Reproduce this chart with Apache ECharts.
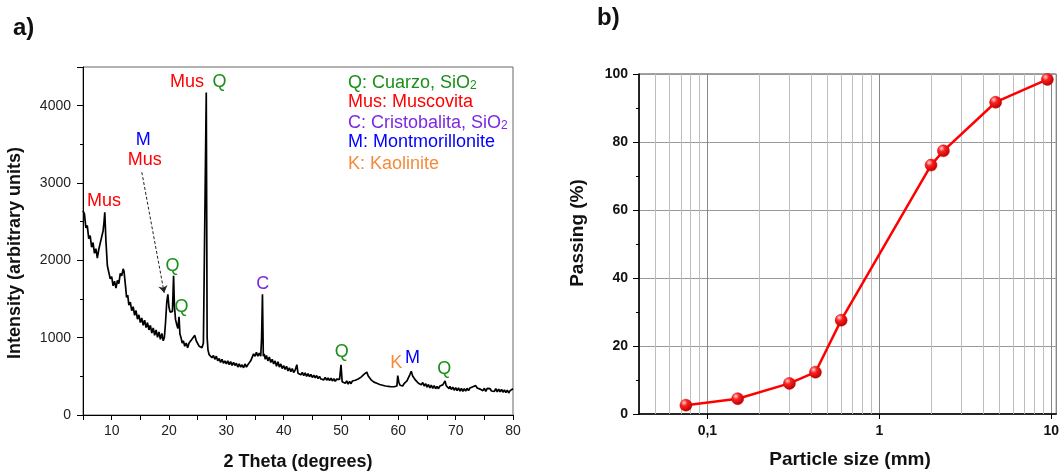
<!DOCTYPE html>
<html>
<head>
<meta charset="utf-8">
<script src="https://cdn.jsdelivr.net/npm/echarts@6/dist/echarts.min.js"></script>
<style>
  html, body { margin: 0; padding: 0; background: #fff; }
  #main { width: 1062px; height: 471px; }
</style>
</head>
<body>
<div id="main"></div>
<script>
// a) XRD pattern, pairs of [2 theta, intensity]
var xrdPattern = [
  [5,2640],[5.25,2600],[5.5,2420],[5.75,2450],[6,2280],[6.25,2320],[6.5,2170],[6.75,2230],
  [7,2090],[7.25,2150],[7.5,2030],[7.75,2140],[8,2120],[8.25,2300],[8.5,2380],[8.65,2480],
  [8.8,2620],[9,2250],[9.25,1930],[9.5,1910],[9.75,1760],[10,1790],[10.25,1670],[10.5,1730],
  [10.75,1640],[11,1740],[11.25,1700],[11.5,1830],[11.75,1800],[12,1890],[12.15,1860],[12.4,1680],
  [12.6,1520],[12.8,1550],[13,1420],[13.25,1460],[13.5,1350],[13.75,1400],[14,1290],[14.25,1350],
  [14.5,1240],[14.75,1295],[15,1195],[15.25,1255],[15.5,1160],[15.75,1225],[16,1130],[16.25,1195],
  [16.5,1100],[16.75,1160],[17,1060],[17.25,1125],[17.5,1030],[17.75,1100],[18,1005],[18.25,1075],
  [18.5,980],[18.75,1055],[19,960],[19.2,1010],[19.4,1200],[19.6,1450],[19.8,1560],[20,1390],
  [20.2,1330],[20.45,1310],[20.6,1340],[20.8,1800],[20.95,1400],[21.15,1230],[21.35,1170],[21.55,1120],
  [21.75,1270],[21.9,1050],[22.1,1000],[22.3,930],[22.5,960],[22.75,890],[23,930],[23.25,870],
  [23.5,930],[23.75,920],[24,980],[24.25,980],[24.5,1030],[24.75,960],[25,950],[25.25,890],
  [25.5,900],[25.75,870],[26,930],[26.25,950],[26.5,4170],[26.65,1000],[26.8,840],[27,780],
  [27.25,790],[27.5,740],[27.75,770],[28,720],[28.25,760],[28.5,700],[28.75,730],[29,680],
  [29.25,720],[29.5,670],[29.75,700],[30,660],[30.25,700],[30.5,650],[30.75,690],[31,640],
  [31.25,680],[31.5,640],[31.75,670],[32,620],[32.25,660],[32.5,620],[32.75,650],[33,610],
  [33.25,660],[33.5,620],[33.75,650],[34,630],[34.25,700],[34.5,720],[34.75,790],[35,760],
  [35.25,810],[35.5,760],[35.75,800],[36,760],[36.15,1000],[36.3,1560],[36.45,760],[36.6,790],
  [36.8,720],[37,770],[37.25,700],[37.5,750],[37.75,680],[38,720],[38.25,660],[38.5,700],
  [38.75,630],[39,690],[39.25,620],[39.5,660],[39.75,600],[40,640],[40.25,590],[40.5,630],
  [40.75,570],[41,610],[41.25,560],[41.5,600],[41.75,550],[42,580],[42.3,650],[42.5,540],
  [42.75,560],[43,520],[43.25,550],[43.5,510],[43.75,545],[44,500],[44.25,535],[44.5,495],
  [44.75,525],[45,485],[45.25,515],[45.5,480],[45.75,510],[46,470],[46.25,500],[46.5,465],
  [46.75,490],[47,455],[47.25,485],[47.5,450],[47.75,480],[48,445],[48.25,475],[48.5,440],
  [48.75,470],[49,435],[49.25,465],[49.5,440],[49.75,460],[50,650],[50.2,430],[50.5,430],
  [50.75,410],[51,440],[51.25,400],[51.5,435],[51.75,405],[52,440],[52.25,415],[52.5,450],
  [52.75,430],[53,465],[53.25,450],[53.5,490],[53.75,490],[54,525],[54.25,520],[54.5,555],
  [54.75,505],[55,500],[55.25,455],[55.5,460],[55.75,425],[56,440],[56.25,410],[56.5,425],
  [56.75,395],[57,415],[57.25,385],[57.5,405],[57.75,375],[58,400],[58.25,370],[58.5,395],
  [58.75,365],[59,390],[59.25,365],[59.5,390],[59.75,375],[59.9,510],[60.1,420],[60.3,385],
  [60.5,400],[60.75,375],[61,405],[61.25,395],[61.5,440],[61.75,460],[62,520],[62.25,565],
  [62.5,505],[62.75,495],[63,450],[63.25,460],[63.5,410],[63.75,435],[64,390],[64.25,420],
  [64.5,375],[64.75,405],[65,360],[65.25,395],[65.5,350],[65.75,385],[66,345],[66.25,380],
  [66.5,340],[66.75,370],[67,340],[67.25,375],[67.5,350],[67.75,390],[68,395],[68.15,440],
  [68.35,380],[68.6,375],[68.85,340],[69,370],[69.25,330],[69.5,360],[69.75,320],[70,355],
  [70.25,315],[70.5,350],[70.75,310],[71,345],[71.25,305],[71.5,340],[71.75,310],[72,345],
  [72.25,315],[72.5,350],[72.75,325],[73,365],[73.25,340],[73.5,380],[73.75,350],[74,360],
  [74.25,335],[74.5,345],[74.75,315],[75,345],[75.25,305],[75.5,345],[75.75,320],[76,340],
  [76.25,310],[76.5,335],[76.75,305],[77,340],[77.25,300],[77.5,335],[77.75,300],[78,330],
  [78.25,295],[78.5,325],[78.75,290],[79,320],[79.25,285],[79.5,315],[79.75,300],[80,340]
];

var GREEN = '#1a8f1a', RED = '#ff0000', PURPLE = '#7b2ae0', BLUE = '#0000ff', ORANGE = '#f58a3c';

// peak labels: [2 theta, intensity, text, colour]
var peakLabels = [
  [8.67, 2770, 'Mus', RED],
  [15.5, 3560, 'M', BLUE],
  [15.75, 3300, 'Mus', RED],
  [23.13, 4300, 'Mus', RED],
  [28.8, 4300, 'Q', GREEN],
  [20.6, 1926, 'Q', GREEN],
  [22.2, 1398, 'Q', GREEN],
  [36.35, 1700, 'C', PURPLE],
  [50.15, 814, 'Q', GREEN],
  [59.65, 670, 'K', ORANGE],
  [62.45, 735, 'M', BLUE],
  [68.0, 597, 'Q', GREEN]
];
var arrowFrom = [15.26, 3139];
var arrowTo = [19.16, 1580];

// b) grading curve
var sieveSize = [0.075, 0.15, 0.3, 0.425, 0.6, 2, 2.36, 4.75, 9.5];
var passing = [2.6, 4.5, 9.0, 12.3, 27.6, 73.2, 77.4, 91.7, 98.4];
var minorGrid = [0.05, 0.06, 0.07, 0.08, 0.09, 0.2, 0.3, 0.4, 0.5, 0.6, 0.7, 0.8, 0.9,
                 2, 3, 4, 5, 6, 7, 8, 9];

var FONT = '"Liberation Sans", Arial, sans-serif';

var chart = echarts.init(document.getElementById('main'));

var sphere = new echarts.graphic.RadialGradient(0.35, 0.3, 0.75, [
  {offset: 0, color: '#ffd6d6'},
  {offset: 0.35, color: '#ff2020'},
  {offset: 1, color: '#b00000'}
]);

chart.setOption({
  backgroundColor: '#fff',
  animation: false,
  textStyle: {fontFamily: FONT},
  grid: [
    {left: 83, top: 67, width: 430, height: 348, show: true, borderColor: '#666', borderWidth: 1},
    {left: 639, top: 74, width: 419, height: 340, show: true, borderColor: '#444', borderWidth: 1}
  ],
  xAxis: [
    {
      gridIndex: 0, type: 'value', min: 5, max: 80, interval: 5,
      axisLine: {onZero: false, lineStyle: {color: '#000', width: 1}},
      axisTick: {show: true, length: 5, lineStyle: {color: '#000'}},
      axisLabel: {
        color: '#222', fontSize: 14, margin: 9,
        formatter: function (v) { return v % 10 === 0 ? String(v) : ''; }
      },
      splitLine: {show: false}
    },
    {
      gridIndex: 1, type: 'log', logBase: 10, min: 0.04, max: 10.7,
      axisLine: {onZero: false, lineStyle: {color: '#000', width: 1.5}},
      axisTick: {show: true, length: 5, lineStyle: {color: '#000'}},
      axisLabel: {
        color: '#111', fontSize: 14, fontWeight: 'bold', margin: 10,
        showMinLabel: false, showMaxLabel: false,
        formatter: function (v) { return String(Number(v.toPrecision(3))).replace('.', ','); }
      },
      splitLine: {show: true, lineStyle: {color: '#888', width: 1}}
    }
  ],
  yAxis: [
    {
      gridIndex: 0, type: 'value', min: 0, max: 4500, interval: 1000,
      axisLine: {show: true, lineStyle: {color: '#000', width: 1}},
      axisTick: {show: true, length: 6, lineStyle: {color: '#000'}},
      minorTick: {show: true, splitNumber: 2, length: 3, lineStyle: {color: '#000'}},
      axisLabel: {
        color: '#222', fontSize: 14, margin: 12, showMaxLabel: false,
        formatter: function (v) { return String(v); }
      },
      splitLine: {show: false}
    },
    {
      gridIndex: 1, type: 'value', min: 0, max: 100, interval: 20,
      axisLine: {show: true, lineStyle: {color: '#000', width: 1.5}},
      axisTick: {show: true, length: 6, lineStyle: {color: '#000'}},
      minorTick: {show: true, splitNumber: 2, length: 3, lineStyle: {color: '#000'}},
      axisLabel: {color: '#111', fontSize: 14, fontWeight: 'bold', margin: 11},
      splitLine: {show: true, lineStyle: {color: '#999', width: 1}}
    }
  ],
  series: [
    {
      type: 'line', xAxisIndex: 0, yAxisIndex: 0,
      data: xrdPattern, showSymbol: false, z: 3,
      lineStyle: {color: '#000', width: 1.7},
      markLine: {
        silent: true, symbol: ['none', 'arrow'], symbolSize: 7,
        label: {show: false},
        lineStyle: {color: '#222', width: 1, type: [3, 2]},
        data: [[{coord: arrowFrom}, {coord: arrowTo}]]
      }
    },
    {
      type: 'scatter', xAxisIndex: 0, yAxisIndex: 0, symbolSize: 0, z: 4,
      itemStyle: {opacity: 1},
      data: peakLabels.map(function (p) {
        return {
          value: [p[0], p[1]],
          label: {show: true, position: 'inside', formatter: p[2], color: p[3],
                  fontSize: 18, fontFamily: FONT, textBorderWidth: 0, opacity: 1}
        };
      })
    },
    {
      type: 'line', xAxisIndex: 1, yAxisIndex: 1, data: [], z: 1,
      markLine: {
        silent: true, symbol: 'none', label: {show: false},
        lineStyle: {color: '#bdbdbd', width: 1, type: 'solid'},
        data: minorGrid.map(function (v) { return {xAxis: v}; })
      }
    },
    {
      type: 'line', xAxisIndex: 1, yAxisIndex: 1, z: 5,
      data: sieveSize.map(function (s, i) { return [s, passing[i]]; }),
      symbol: 'circle', symbolSize: 12, showSymbol: true,
      lineStyle: {color: '#ff0000', width: 2.5},
      itemStyle: {color: sphere, borderColor: '#d00000', borderWidth: 0.5}
    }
  ],
  graphic: [
    {type: 'text', x: 13, y: 16, style: {text: 'a)', font: 'bold 24px ' + FONT, fill: '#111'}},
    {type: 'text', x: 597, y: 6, style: {text: 'b)', font: 'bold 24px ' + FONT, fill: '#111'}},
    {type: 'text', x: 15, y: 253, rotation: Math.PI / 2,
     style: {text: 'Intensity (arbitrary units)', font: 'bold 18px ' + FONT, fill: '#111',
             textAlign: 'center', textVerticalAlign: 'middle'}},
    {type: 'text', x: 298, y: 462,
     style: {text: '2 Theta (degrees)', font: 'bold 18px ' + FONT, fill: '#111',
             textAlign: 'center', textVerticalAlign: 'middle'}},
    {type: 'text', x: 578, y: 233, rotation: Math.PI / 2,
     style: {text: 'Passing (%)', font: 'bold 19px ' + FONT, fill: '#111',
             textAlign: 'center', textVerticalAlign: 'middle'}},
    {type: 'text', x: 850, y: 460,
     style: {text: 'Particle size (mm)', font: 'bold 19px ' + FONT, fill: '#111',
             textAlign: 'center', textVerticalAlign: 'middle'}},
    {type: 'text', x: 348, y: 83, style: {
      text: '{m|Q: Cuarzo, SiO}{s|2}', textVerticalAlign: 'middle',
      rich: {m: {fill: GREEN, fontSize: 18, fontFamily: FONT},
             s: {fill: GREEN, fontSize: 12, fontFamily: FONT, verticalAlign: 'bottom'}}}},
    {type: 'text', x: 348, y: 102, style: {
      text: 'Mus: Muscovita', fill: RED, font: '18px ' + FONT, textVerticalAlign: 'middle'}},
    {type: 'text', x: 348, y: 123, style: {
      text: '{m|C: Cristobalita, SiO}{s|2}', textVerticalAlign: 'middle',
      rich: {m: {fill: PURPLE, fontSize: 18, fontFamily: FONT},
             s: {fill: PURPLE, fontSize: 12, fontFamily: FONT, verticalAlign: 'bottom'}}}},
    {type: 'text', x: 348, y: 142, style: {
      text: 'M: Montmorillonite', fill: BLUE, font: '18px ' + FONT, textVerticalAlign: 'middle'}},
    {type: 'text', x: 348, y: 164, style: {
      text: 'K: Kaolinite', fill: ORANGE, font: '18px ' + FONT, textVerticalAlign: 'middle'}}
  ]
});
</script>
</body>
</html>
